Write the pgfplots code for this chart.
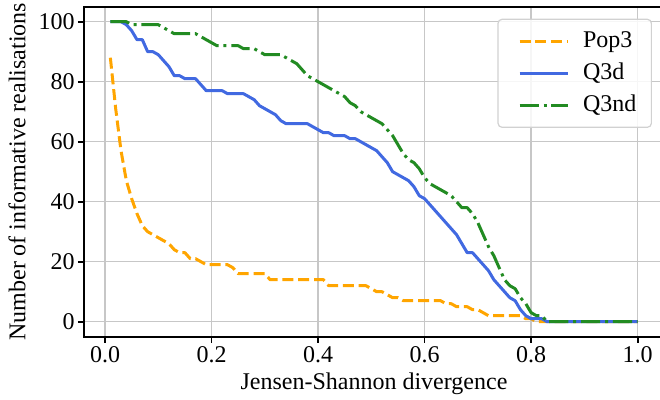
\documentclass[border=0pt]{standalone}
\usepackage{fontspec}
\setmainfont{Liberation Serif}
\usepackage{pgfplots}
\usepackage{pgfplotstable}
\pgfplotsset{compat=1.18}

\definecolor{popcol}{HTML}{FFA500}
\definecolor{qdcol}{HTML}{4169E1}
\definecolor{qndcol}{HTML}{228B22}

% Number of informative realisations vs. JS divergence threshold
\pgfplotstableread{
x    pop q3d q3nd
0.01 88 100 100
0.02 71 100 100
0.03 57 100 100
0.04 47 99 100
0.05 41 97 99
0.06 36 94 99
0.07 32 94 99
0.08 30 90 99
0.09 29 90 99
0.10 28 89 99
0.11 27 87 98
0.12 26 85 97
0.13 24 82 96
0.14 23 82 96
0.15 23 81 96
0.16 21 81 96
0.17 21 81 96
0.18 20 79 95
0.19 19 77 94
0.20 19 77 93
0.21 19 77 92
0.22 19 77 92
0.23 19 76 92
0.24 18 76 92
0.25 16 76 92
0.26 16 76 91
0.27 16 75 91
0.28 16 74 91
0.29 16 72 90
0.30 16 71 89
0.31 14 70 89
0.32 14 69 89
0.33 14 67 89
0.34 14 66 88
0.35 14 66 87
0.36 14 66 86
0.37 14 66 84
0.38 14 66 82
0.39 14 65 81
0.40 14 64 80
0.41 14 63 79
0.42 12 63 78
0.43 12 62 77
0.44 12 62 76
0.45 12 62 75
0.46 12 61 73
0.47 12 61 72
0.48 12 60 70
0.49 12 59 69
0.50 11 58 68
0.51 10 57 67
0.52 10 55 66
0.53 9 53 64
0.54 8 50 62
0.55 8 49 59
0.56 7 48 56
0.57 7 47 54
0.58 7 45 53
0.59 7 42 51
0.60 7 41 48
0.61 7 39 46
0.62 7 37 45
0.63 7 35 44
0.64 6 33 43
0.65 6 31 42
0.66 5 29 40
0.67 5 26 38
0.68 5 23 38
0.69 4 23 36
0.70 4 21 33
0.71 3 19 29
0.72 2 17 25
0.73 2 14 22
0.74 2 12 18
0.75 2 10 14
0.76 2 8 12
0.77 2 7 11
0.78 2 4 8
0.79 1 2 6
0.80 1 1 3
0.81 0 1 2
0.82 0 1 2
0.83 0 0 0
0.84 0 0 0
0.85 0 0 0
0.86 0 0 0
0.87 0 0 0
0.88 0 0 0
0.89 0 0 0
0.90 0 0 0
0.91 0 0 0
0.92 0 0 0
0.93 0 0 0
0.94 0 0 0
0.95 0 0 0
0.96 0 0 0
0.97 0 0 0
0.98 0 0 0
0.99 0 0 0
1.00 0 0 0
}\jsdata

\begin{document}
\begin{tikzpicture}
\useasboundingbox (-42pt,-31.65pt) rectangle (288pt,168.35pt);
\begin{axis}[
  scale only axis,
  width=290pt, height=165pt,
  xmin=-0.0395, xmax=1.0495,
  ymin=-5, ymax=105,
  xtick={0,0.2,0.4,0.6,0.8,1},
  ytick={0,20,40,60,80,100},
  xticklabel style={/pgf/number format/.cd, fixed, fixed zerofill, precision=1},
  /pgf/number format/assume math mode=true,
  tick label style={font=\fontsize{12}{14}\selectfont, inner sep=1.5pt},
  label style={font=\fontsize{12}{14}\selectfont},
  xlabel={Jensen-Shannon divergence},
  ylabel={Number of informative realisations},
  ylabel shift=1.5pt,
  xtick pos=lower, ytick pos=left,
  tick align=outside,
  major tick length=3pt,
  tick style={black, line width=0.9pt},
  axis line style={black, line width=0.9pt},
  grid=major,
  major grid style={black!22, line width=0.8pt},
  legend cell align=left,
  legend image code/.code={%
    \path (-5pt,0pt) (28.5pt,0pt);
    \draw[#1] (0pt,0pt) -- (24pt,0pt);},
  legend style={
    at={(0.9793,0.9636)}, anchor=north east,
    draw=black!18, line width=0.6pt, rounded corners=2pt,
    fill=white, fill opacity=0.85, text opacity=1,
    font=\fontsize{12}{14}\selectfont,
    inner xsep=5pt, inner ysep=3pt, row sep=0pt,
    nodes={inner sep=2.5pt, text height=8.5pt, text depth=2.5pt},
  },
]
\addplot[popcol, line width=1.5pt, dash pattern=on 5.5pt off 2.4pt, line join=round] table[x=x, y=pop] {\jsdata};
\addlegendentry{Pop3}
\addplot[qdcol, line width=1.5pt, line join=round] table[x=x, y=q3d] {\jsdata};
\addlegendentry{Q3d}
\addplot[qndcol, line width=1.5pt, dash pattern=on 9.6pt off 2.4pt on 1.5pt off 2.4pt, line join=round] table[x=x, y=q3nd] {\jsdata};
\addlegendentry{Q3nd}
\end{axis}
\end{tikzpicture}
\end{document}
